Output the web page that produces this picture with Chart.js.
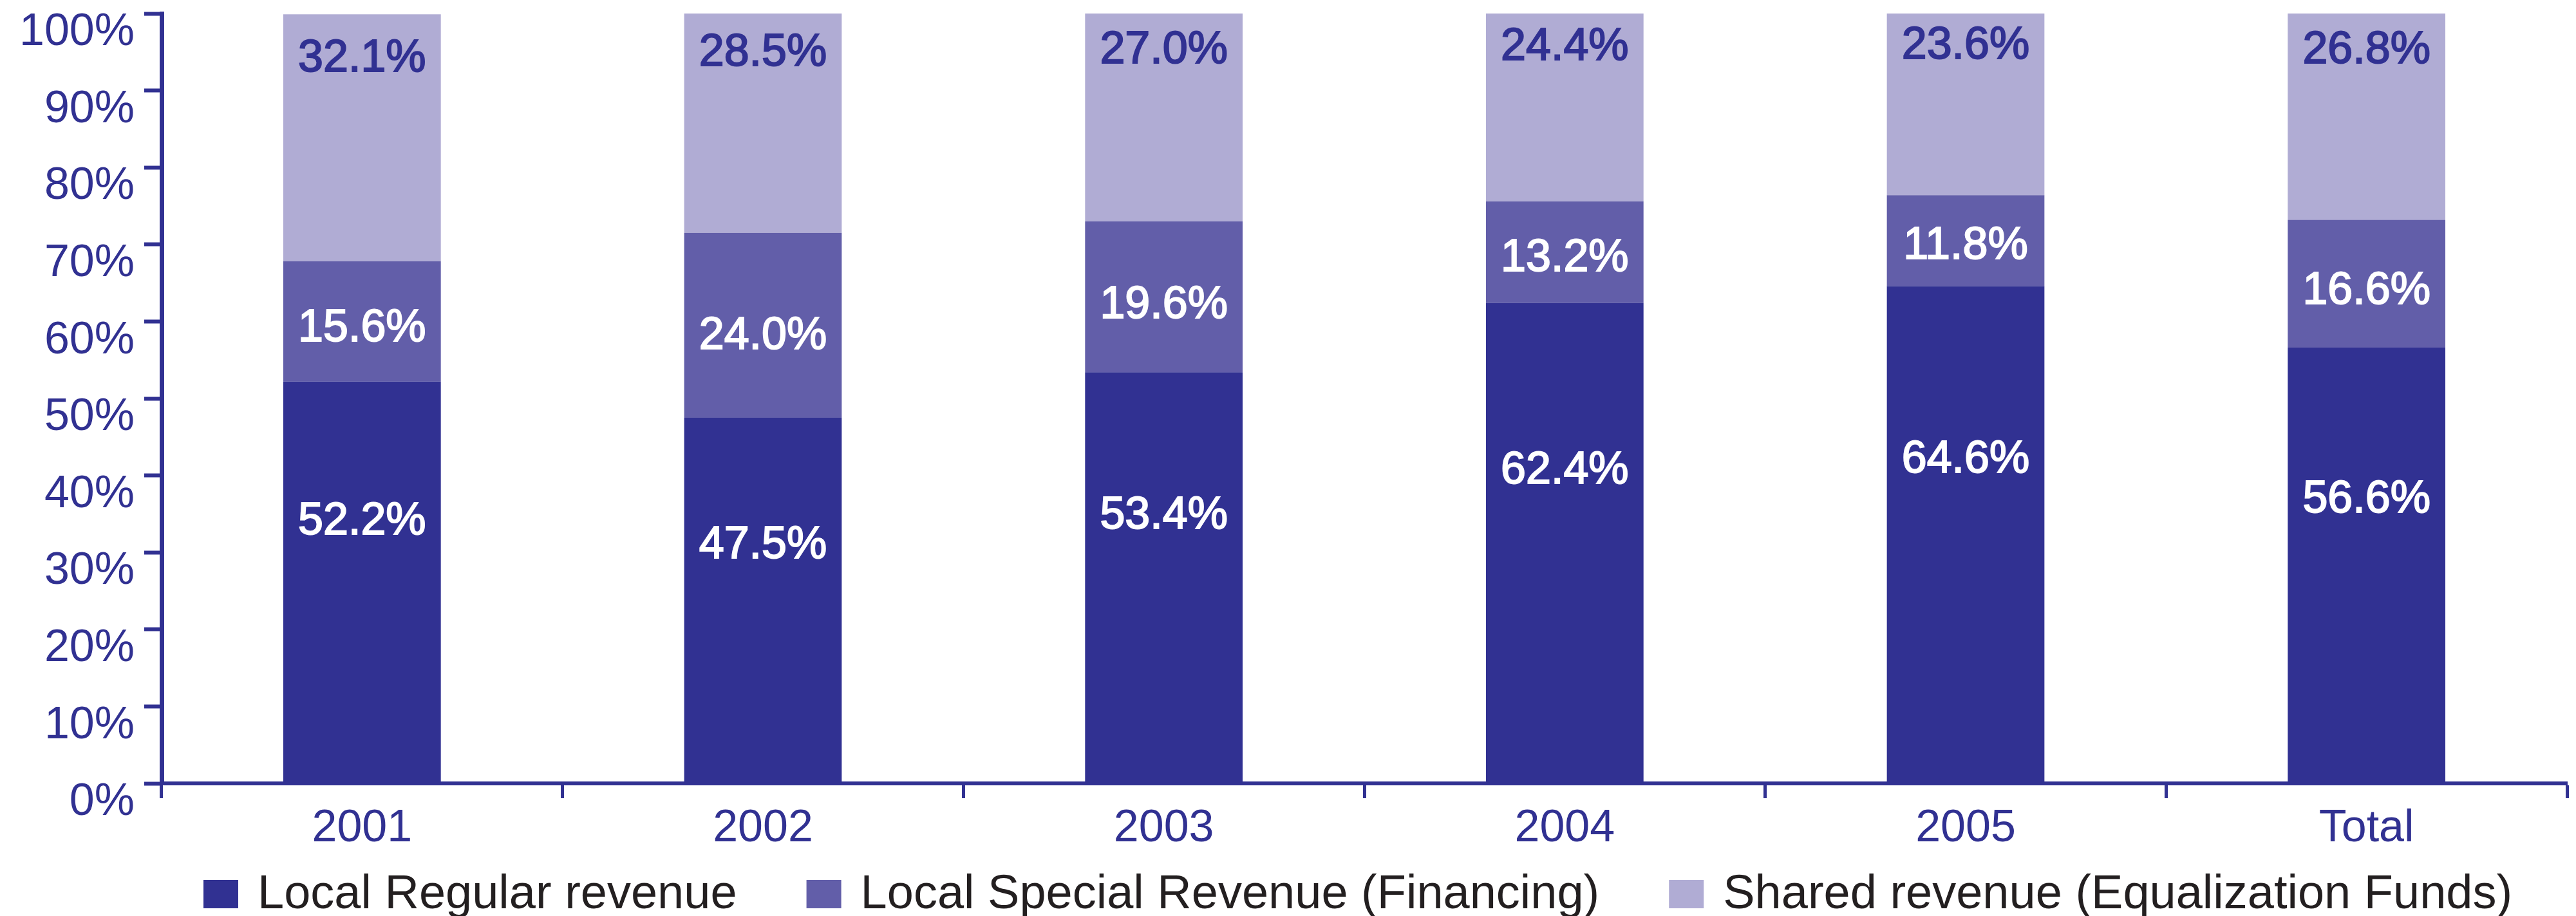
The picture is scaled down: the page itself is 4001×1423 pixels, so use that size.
<!DOCTYPE html>
<html>
<head>
<meta charset="utf-8">
<script src="https://cdn.jsdelivr.net/npm/chart.js@4.4.1/dist/chart.umd.min.js"></script>
<style>
    html, body { margin: 0; padding: 0; background: #ffffff; }
    canvas { display: block; }
</style>
</head>
<body>
<canvas id="revenueChart" width="4001" height="1423"></canvas>
<script>
const categories = ['2001', '2002', '2003', '2004', '2005', 'Total'];
const seriesNames = [
    'Local Regular revenue',
    'Local Special Revenue (Financing)',
    'Shared revenue (Equalization Funds)'
];
const localRegular = [52.2, 47.5, 53.4, 62.4, 64.6, 56.6];
const localSpecial = [15.6, 24.0, 19.6, 13.2, 11.8, 16.6];
const sharedRevenue = [32.1, 28.5, 27.0, 24.4, 23.6, 26.8];
const yTicks = [0, 10, 20, 30, 40, 50, 60, 70, 80, 90, 100];

const navy = '#313192';
const seriesColors = ['#313192', '#625EA9', '#B0ACD4'];
const labelColors = ['#ffffff', '#ffffff', '#313192'];
const labelSpots = [0.65, 0.44, 0.82];
const fontFamily = '"Liberation Sans", Arial, sans-serif';

// value labels inside each stacked segment
const segmentLabels = {
    id: 'segmentLabels',
    afterDatasetsDraw(chart) {
        const ctx = chart.ctx;
        ctx.save();
        ctx.font = '70px ' + fontFamily;
        ctx.textAlign = 'center';
        ctx.textBaseline = 'middle';
        ctx.lineWidth = 2;
        chart.data.datasets.forEach((ds, i) => {
            const meta = chart.getDatasetMeta(i);
            meta.data.forEach((bar, j) => {
                const p = bar.getProps(['x', 'y', 'base'], true);
                const y = p.base + (p.y - p.base) * labelSpots[i];
                const txt = ds.data[j].toFixed(1) + '%';
                ctx.fillStyle = labelColors[i];
                ctx.strokeStyle = labelColors[i];
                ctx.fillText(txt, p.x, y);
                ctx.strokeText(txt, p.x, y);
            });
        });
        ctx.restore();
    }
};

// legend row under the axis
const bottomLegend = {
    id: 'bottomLegend',
    afterDraw(chart) {
        const ctx = chart.ctx;
        ctx.save();
        ctx.font = '74px ' + fontFamily;
        ctx.textAlign = 'left';
        ctx.textBaseline = 'alphabetic';
        let x = 316;
        const baseline = 1411;
        chart.data.datasets.forEach(ds => {
            ctx.fillStyle = ds.backgroundColor;
            ctx.fillRect(x, baseline - 44, 54, 44);
            x += 54 + 30;
            ctx.fillStyle = '#231F20';
            ctx.fillText(ds.label, x, baseline);
            x += ctx.measureText(ds.label).width + 108;
        });
        ctx.restore();
    }
};

const datasets = [localRegular, localSpecial, sharedRevenue].map((values, i) => ({
    label: seriesNames[i],
    data: values,
    backgroundColor: seriesColors[i],
    borderWidth: 0,
    categoryPercentage: 1,
    barPercentage: 0.393
}));

new Chart(document.getElementById('revenueChart').getContext('2d'), {
    type: 'bar',
    data: { labels: categories, datasets: datasets },
    options: {
        responsive: false,
        animation: false,
        devicePixelRatio: 1,
        layout: { padding: { top: 21, right: 14, bottom: 86, left: 0 } },
        plugins: {
            legend: { display: false },
            tooltip: { enabled: false }
        },
        scales: {
            x: {
                stacked: true,
                offset: true,
                grid: {
                    offset: true,
                    drawOnChartArea: false,
                    drawTicks: true,
                    tickLength: 23,
                    tickWidth: 5,
                    tickColor: navy,
                    color: navy
                },
                border: { color: navy, width: 6 },
                ticks: {
                    color: navy,
                    padding: 6,
                    font: { family: fontFamily, size: 70 }
                },
                afterFit(scale) {
                    scale.height = 120;
                    scale.paddingLeft = 0;
                    scale.paddingRight = 0;
                }
            },
            y: {
                stacked: true,
                min: 0,
                max: 100,
                afterBuildTicks(scale) {
                    scale.ticks = yTicks.map(v => ({ value: v }));
                },
                grid: {
                    drawOnChartArea: false,
                    drawTicks: true,
                    tickLength: 27,
                    tickWidth: 6,
                    tickColor: navy,
                    color: navy
                },
                border: { color: navy, width: 7 },
                ticks: {
                    color: navy,
                    padding: 15,
                    labelOffset: 30,
                    font: { family: fontFamily, size: 70 },
                    callback: v => v + '%'
                },
                afterFit(scale) {
                    scale.width = 251;
                    scale.paddingTop = 0;
                    scale.paddingBottom = 0;
                }
            }
        }
    },
    plugins: [segmentLabels, bottomLegend]
});
</script>
</body>
</html>
